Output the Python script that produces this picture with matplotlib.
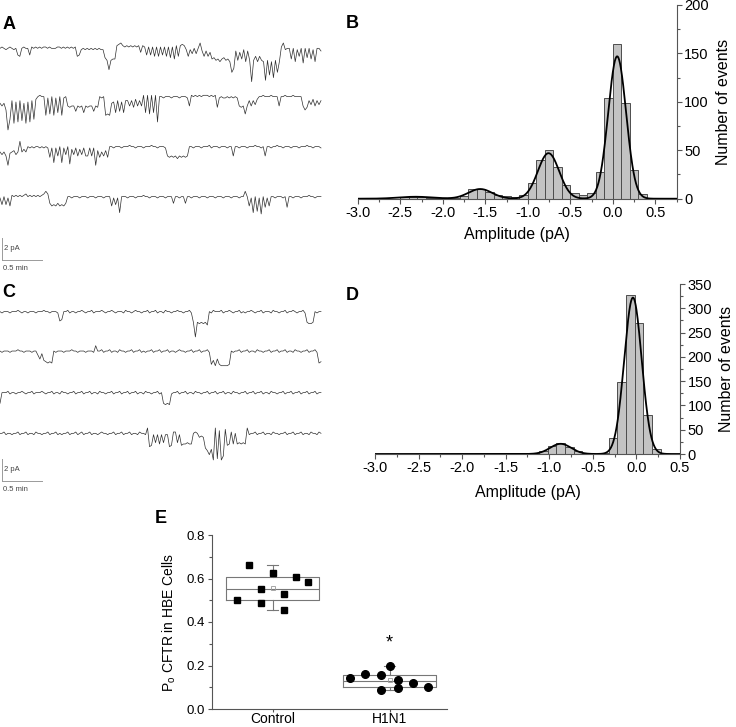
import numpy as np
import matplotlib.pyplot as plt

plt.rcParams['font.family'] = ['Liberation Sans', 'DejaVu Sans']

# ---- single-channel traces: one char per sample, base-36 level code
# (0 = top of trace band, each step = 0.121 pA downward)
trace_a = [
    ("434543454" "9a" "4344" "9" "34343433434443343434343" "a9" "545454545455"
     "bdkdcc" "2102" "3232323" "272" "39393a" "3a393a" "3b3c2a" "212" "5a58484"
     "0" "6a6a7" "cbdcecbdce" "mj" "6d7c5e6d" "td" "aeade" "s" "doeqdme" "3054"
     "4c4e5a4f4b4c5e44" "6"),
    ("9b9e" "tl" "7o8n7m9o8n7l6" "434" "4i5h4i5g4i54" "bcbbfbcbgbcbbfbc" "454"
     "ihi9" "8g7f8g7" "7b7c6b7b" "3g3h3g3" "n" "445444544454445" "b"
     "3434343334343" "c" "5455454545" "bcbhb" "7b7a6" "4434443444" "b"
     "44344434444" "bec" "7a6b7a7"),
    ("8a8b" "i9" "87a80868" "4545445454" "5c5g5b4g5a4h" "6a5b6a5b" "b5b5" "i"
     "7c8b7c" "44544454443445444544434454445" "bcbcbdbcbcb"
     "4454445444354445444544" "b" "445444544434454" "b"
     "4454434454445444544434454445"),
    ("5a4a5b" "3434343243434343" "202" "9bab9bab9" "4454445444544454445444"
     "b5a5g4" "4454445444344544454445444" "9" "44544" "9"
     "4454445444544454445444544" "45" "44" "0" "4b5g4f5h4c5b" "44544454" "c"
     "44544454443445444"),
]
trace_c = [
    ("454445444345445444544434454445" "ba"
     "4435445443" "4544354443" "4544345444" "5344543445" "4435443544" "5344544344" "54435"
     "cnc" "dcdce"
     "4534443544" "3454435454" "4345443544" "4534454435" "443454435"
     "cddc" "4544"),
    ("4544454443445444544" "7a6bcdcd" "454445444344544454445" "0"
     "4435443544" "5344544354" "4354544354" "4354435445" "4344544354" "4354435"
     "ebfaeffffe" "4"
     "5443544354" "4534454435" "4435443544" "5344544354" "435" "dc"),
    ("c4"
     "4435445443" "4544354443" "4544354453" "4454435443" "5443544534" "4544354435"
     "4435443544" "5344544354"
     "cdcd"
     "5443544354" "4534454435" "4435443544" "5344544354" "4354435445" "3445443544"
     "3544354435" "443544"),
    ("4435445443" "5443544534" "4544354435" "4544354435" "4354435445" "4344544354"
     "4354435445" "3445"
     "0ed" "5b5c5b55" "ed" "33b5d" "ccbcc" "434" "767" "fhkg" "o0n2ol1" "dc"
     "3c4cbcbc" "0"
     "5443544354" "4534454435" "4435443544" "5344534"),
]

# ---- amplitude histograms (left bin edge, count) and gaussian fit params
b_left = [-2.5, -2.4, -2.3, -2.2, -2.1, -2.0, -1.9, -1.8, -1.7, -1.6, -1.5, -1.4,
          -1.3, -1.2, -1.1, -1.0, -0.9, -0.8, -0.7, -0.6, -0.5, -0.4, -0.3, -0.2,
          -0.1, 0.0, 0.1, 0.2, 0.3, 0.4, 0.5]
b_count = [2, 2, 2, 1, 0.5, 0.5, 1, 3, 10, 10, 7, 4, 3, 2, 4, 16, 40, 50, 33, 14,
           6, 4, 6, 28, 104, 160, 99, 30, 5, 1, 0.5]
b_fit = [(147, 0.05, 0.105), (47, -0.757, 0.125), (10, -1.56, 0.14), (2, -2.32, 0.2)]

d_left = [-1.62, -1.52, -1.42, -1.32, -1.22, -1.12, -1.02, -0.92, -0.82, -0.72,
          -0.62, -0.52, -0.42, -0.32, -0.22, -0.12, -0.02, 0.08, 0.18, 0.28]
d_count = [1, 1, 1, 1, 2, 7, 17, 23, 14, 6, 2, 1, 3, 32, 148, 328, 270, 80, 10, 1]
d_fit = [(322, -0.04, 0.1), (21, -0.87, 0.12)]

# ---- open probability
groups = ['Control', 'H1N1']
ctrl_po = [0.661, 0.625, 0.608, 0.585, 0.552, 0.530, 0.503, 0.486, 0.456]
ctrl_dx = [-0.2, 0.0, 0.2, 0.3, -0.1, 0.1, -0.3, -0.1, 0.1]
h1n1_po = [0.144, 0.162, 0.155, 0.200, 0.134, 0.088, 0.095, 0.120, 0.103]
h1n1_dx = [-0.34, -0.21, -0.07, 0.0, 0.07, -0.07, 0.07, 0.2, 0.33]
box_stats = [
    dict(med=0.552, q1=0.502, q3=0.605, whislo=0.456, whishi=0.661, mean=0.555),
    dict(med=0.130, q1=0.103, q3=0.158, whislo=0.088, whishi=0.200, mean=0.134),
]

W, H = 736, 727
fig = plt.figure(figsize=(W / 100, H / 100), dpi=100)


def px_axes(left, top, right, bottom):
    return fig.add_axes([left / W, 1 - bottom / H, (right - left) / W, (bottom - top) / H])


def px_text(x, y, s, **kw):
    fig.text(x / W, 1 - y / H, s, **kw)


PX_PER_PA = 11.0
PX_PER_MIN = 80.0
UNIT_PA = (4 / 3) / PX_PER_PA
GREY = '#555555'


def trace_panel(traces, top, bottom, refs, bar_top):
    ax = px_axes(0, top, 323, bottom)
    ax.set_xlim(0, 323 / PX_PER_MIN)
    ax.set_ylim(-(bottom - top) / PX_PER_PA, 0)
    ax.axis('off')
    for s, r in zip(traces, refs):
        lv = np.array([int(c, 36) for c in s])
        t = np.linspace(0, 321 / PX_PER_MIN, len(lv))
        ax.plot(t, -(r - top) / PX_PER_PA - lv * UNIT_PA, color='#2e2e2e', lw=0.5)
    # scale bar
    x0 = 2 / PX_PER_MIN
    y0 = -(bar_top + 22 - top) / PX_PER_PA
    ax.plot([x0, x0], [y0, y0 + 2], color='#9a9a9a', lw=0.7, clip_on=False)
    ax.plot([x0, x0 + 0.5], [y0, y0], color='#9a9a9a', lw=0.7, clip_on=False)
    ax.text(x0 + 0.03, y0 + 1.05, '2 pA', fontsize=5.5, color='#444444', va='center')
    ax.text(x0 + 0.01, y0 - 0.75, '0.5 min', fontsize=5.5, color='#444444', va='center')


trace_panel(trace_a, 25, 275, [43, 91.3, 141.3, 191.3], 238)
trace_panel(trace_c, 290, 495, [306.3, 345.7, 387.3, 428], 459)


def hist_panel(left, top, right, bottom, xlim, ymax, edges, counts, fit, xlabel_pad):
    ax = px_axes(left, top, right, bottom)
    ax.bar(edges, counts, width=0.1, align='edge', color='#c3c3c3',
           edgecolor='#4d4d4d', linewidth=0.7, zorder=2)
    xx = np.linspace(xlim[0], xlim[1], 800)
    yy = np.zeros_like(xx)
    for a, c, s in fit:
        yy += a * np.exp(-(xx - c) ** 2 / (2 * s ** 2))
    ax.plot(xx, yy, color='black', lw=1.3, zorder=3)
    ax.set_xlim(*xlim)
    ax.set_ylim(0, ymax)
    for sp in ['top', 'left']:
        ax.spines[sp].set_visible(False)
    for sp in ['right', 'bottom']:
        ax.spines[sp].set_color(GREY)
        ax.spines[sp].set_linewidth(0.8)
    ax.yaxis.tick_right()
    ax.yaxis.set_label_position('right')
    ax.set_xticks(np.arange(-3.0, 0.51, 0.5))
    ax.set_xticks(np.arange(-3.0, xlim[1] + 0.01, 0.25), minor=True)
    ax.set_xticklabels(['%.1f' % v for v in np.arange(-3.0, 0.51, 0.5)])
    ax.set_yticks(np.arange(0, ymax + 1, 50))
    ax.set_yticks(np.arange(0, ymax + 1, 25), minor=True)
    ax.tick_params(which='both', colors=GREY, labelcolor='black', labelsize=10.5, width=0.8)
    ax.tick_params(which='major', length=3.5)
    ax.tick_params(which='minor', length=2)
    ax.tick_params(axis='y', pad=2)
    ax.tick_params(axis='x', pad=1.5)
    ax.set_ylabel('Number of events', fontsize=11.5, labelpad=5)
    ax.set_xlabel('Amplitude (pA)', fontsize=11.5, labelpad=xlabel_pad)
    return ax


hist_panel(357.7, 5, 676.7, 198.7, (-3.0, 0.75), 200, b_left, b_count, b_fit, 5)
hist_panel(375, 284, 680, 454, (-3.0, 0.5), 350, d_left, d_count, d_fit, 7)

# ---- panel E
ax = px_axes(211.7, 535, 447, 709)
pos = [1, 2]
ax.bxp(box_stats, positions=pos, widths=0.8, showfliers=False, showmeans=True,
       capwidths=0.1,
       boxprops=dict(color='#777777', lw=0.8),
       whiskerprops=dict(color='#777777', lw=0.8),
       capprops=dict(color='#777777', lw=0.8),
       medianprops=dict(color='#777777', lw=0.8),
       meanprops=dict(marker='s', markersize=2.5, markerfacecolor='none',
                      markeredgecolor='#999999', markeredgewidth=0.6))
ax.plot(np.add(pos[0], ctrl_dx), ctrl_po, 's', color='black', markersize=5, zorder=4)
ax.plot(np.add(pos[1], h1n1_dx), h1n1_po, 'o', color='black', markersize=5.5, zorder=4)
ax.text(pos[1], 0.305, '*', ha='center', va='center', fontsize=13)
ax.set_xlim(0.48, 2.49)
ax.set_ylim(0, 0.8)
ax.set_xticks(pos)
ax.set_xticklabels(groups)
ax.set_yticks(np.arange(0, 0.81, 0.2))
ax.set_yticks(np.arange(0, 0.81, 0.1), minor=True)
ax.set_yticklabels(['%.1f' % v for v in np.arange(0, 0.81, 0.2)])
for sp in ['top', 'right']:
    ax.spines[sp].set_visible(False)
for sp in ['left', 'bottom']:
    ax.spines[sp].set_color(GREY)
    ax.spines[sp].set_linewidth(0.8)
ax.tick_params(which='both', colors=GREY, labelcolor='black', width=0.8)
ax.tick_params(axis='y', labelsize=9.5, length=3, pad=2)
ax.tick_params(axis='y', which='minor', length=2)
ax.tick_params(axis='x', labelsize=10, length=2, pad=0.5)
ax.set_ylabel(r'P$_\mathregular{o}$ CFTR in HBE Cells', fontsize=10, labelpad=6)

# panel letters
for lab, x, y in [('A', 3, 29), ('B', 346, 28), ('C', 2, 297), ('D', 346, 300), ('E', 155, 523)]:
    px_text(x, y, lab, fontsize=13, fontweight='bold', va='baseline')

fig.savefig('out.png', dpi=100)
